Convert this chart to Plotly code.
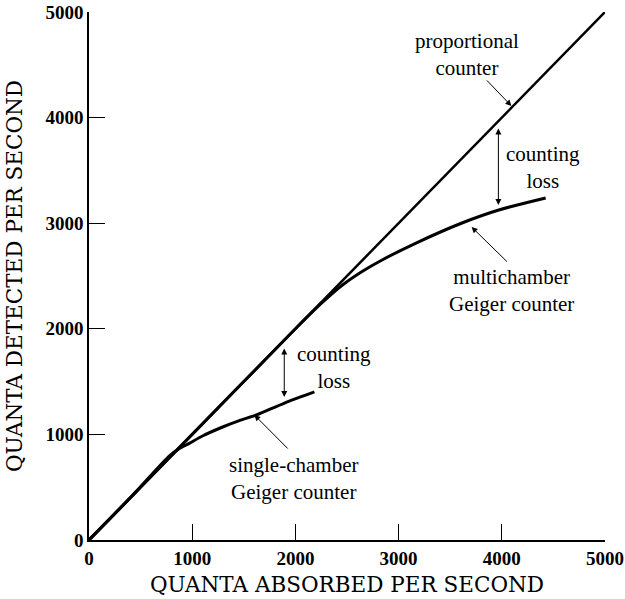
import plotly.graph_objects as go

# ---- data ----
prop_x = [0, 5000]
prop_y = [0, 5000]

single_x = [0, 400, 783, 880, 976, 1100, 1295, 1450, 1623, 1894, 2184]
single_y = [0, 400, 800, 868, 918, 985, 1070, 1128, 1184, 1297, 1402]

multi_x = [0, 1000, 2000, 2250, 2450, 2650, 2840, 3169, 3614, 3971, 4425]
multi_y = [0, 1000, 2000, 2240, 2410, 2545, 2652, 2812, 3002, 3125, 3239]

tick_vals = [0, 1000, 2000, 3000, 4000, 5000]
tick_text = ["0", "1000", "2000", "3000", "4000", "5000"]

SERIF = "Liberation Serif"

fig = go.Figure()
fig.add_trace(go.Scatter(x=prop_x, y=prop_y, mode="lines",
                         line=dict(color="black", width=2.5),
                         name="proportional counter", showlegend=False))
fig.add_trace(go.Scatter(x=single_x, y=single_y, mode="lines",
                         line=dict(color="black", width=3, shape="spline", smoothing=0.8),
                         name="single-chamber Geiger counter", showlegend=False))
fig.add_trace(go.Scatter(x=multi_x, y=multi_y, mode="lines",
                         line=dict(color="black", width=3, shape="spline", smoothing=0.8),
                         name="multichamber Geiger counter", showlegend=False))

txt_font = dict(family=SERIF, size=21, color="black")

labels = [
    (3658, 4600, "proportional<br>counter"),
    (4402, 3523, "counting<br>loss"),
    (4093, 2367, "multichamber<br>Geiger counter"),
    (2375, 1638, "counting<br>loss"),
    (1979, 578, "single-chamber<br>Geiger counter"),
]
annotations = []
for x, y, t in labels:
    annotations.append(dict(x=x, y=y, xref="x", yref="y", text=t, showarrow=False,
                            font=txt_font, align="center"))

# pointer arrows (tip, tail)
pointers = [
    ((4093, 4110), (3842, 4366)),
    ((3707, 2964), (4064, 2623)),
    ((1602, 1184), (1940, 852)),
]
for (tx, ty), (sx, sy) in pointers:
    annotations.append(dict(x=tx, y=ty, ax=sx, ay=sy, xref="x", yref="y",
                            axref="x", ayref="y", text="", showarrow=True,
                            arrowhead=2, arrowsize=1.2, arrowwidth=1, arrowcolor="black"))

# double-headed counting-loss arrows
doubles = [
    ((3967, 3911), (3967, 3172)),
    ((1892, 1828), (1892, 1354)),
]
for (x1, y1), (x2, y2) in doubles:
    annotations.append(dict(x=x2, y=y2, ax=x1, ay=y1, xref="x", yref="y",
                            axref="x", ayref="y", text="", showarrow=True,
                            arrowhead=2, startarrowhead=2, arrowside="end+start",
                            arrowsize=1.2, startarrowsize=1.2, arrowwidth=1,
                            arrowcolor="black"))

axis_common = dict(
    range=[0, 5000], tickvals=tick_vals, ticktext=tick_text,
    ticks="inside", ticklen=16, tickwidth=1.3, tickcolor="black",
    showline=True, linecolor="black", linewidth=1.5,
    showgrid=False, zeroline=False, automargin=False,
    ticklabeloverflow="allow",
    tickfont=dict(family=SERIF, size=19, color="black", weight="bold"),
)

fig.update_layout(
    width=625, height=599,
    margin=dict(l=89, r=20, t=12, b=59),
    paper_bgcolor="white", plot_bgcolor="white",
    xaxis=dict(**axis_common,
               title=dict(text="QUANTA ABSORBED PER SECOND",
                          font=dict(family="DejaVu Serif", size=21.5, color="black"),
                          standoff=9)),
    yaxis=dict(**axis_common,
               title=dict(text="QUANTA DETECTED PER SECOND",
                          font=dict(family="DejaVu Serif", size=21.5, color="black"),
                          standoff=17)),
    annotations=annotations,
)

# remove the browser's default 8px page margin so the figure sits at the window corner
fig.write_html("out.html",
               config={"displayModeBar": False},
               post_script="document.body.style.margin='0';")
